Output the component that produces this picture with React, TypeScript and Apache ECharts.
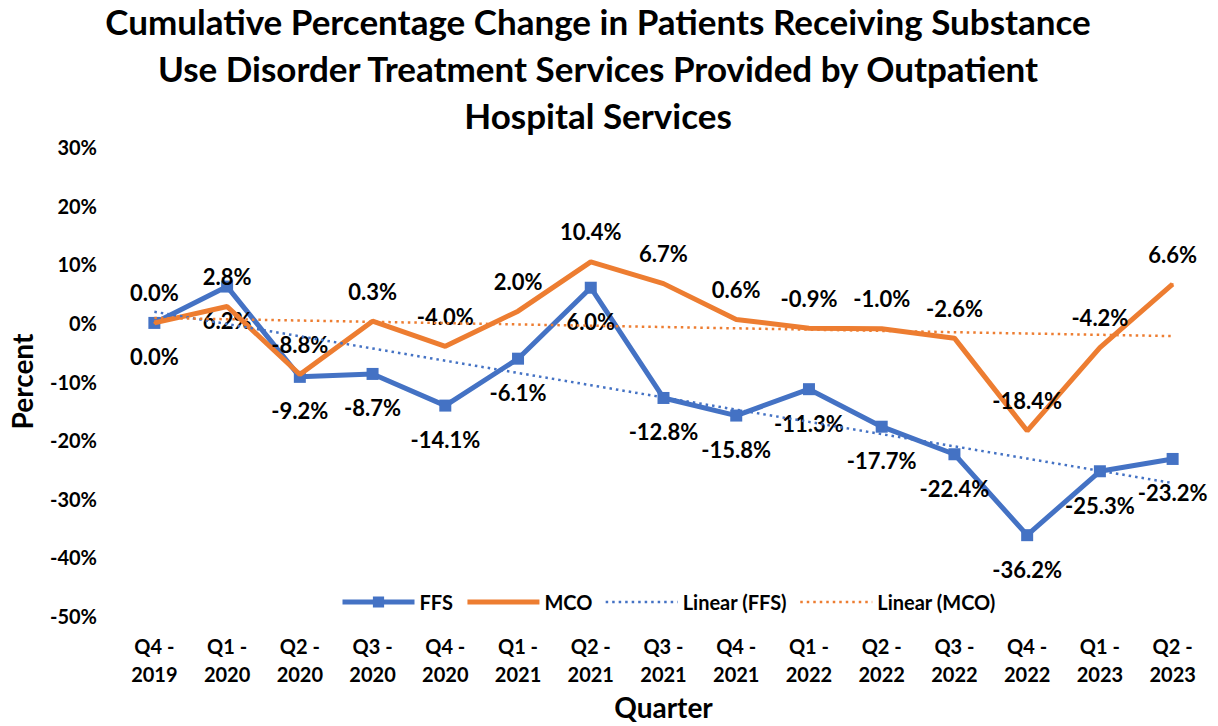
import React, { useEffect, useRef } from "react";
import * as echarts from "echarts";

const titleText =
  "Cumulative Percentage Change in Patients Receiving Substance\nUse Disorder Treatment Services Provided by Outpatient\nHospital Services";

const categories = [
  "Q4 -\n2019", "Q1 -\n2020", "Q2 -\n2020", "Q3 -\n2020", "Q4 -\n2020",
  "Q1 -\n2021", "Q2 -\n2021", "Q3 -\n2021", "Q4 -\n2021", "Q1 -\n2022",
  "Q2 -\n2022", "Q3 -\n2022", "Q4 -\n2022", "Q1 -\n2023", "Q2 -\n2023",
];

const ffsValues = [0.0, 6.2, -9.2, -8.7, -14.1, -6.1, 6.0, -12.8, -15.8, -11.3, -17.7, -22.4, -36.2, -25.3, -23.2];
const mcoValues = [0.0, 2.8, -8.8, 0.3, -4.0, 2.0, 10.4, 6.7, 0.6, -0.9, -1.0, -2.6, -18.4, -4.2, 6.6];

const yMin = -50;
const yMax = 30;
const yInterval = 10;

const BLUE = "#4472C4";
const ORANGE = "#ED7D31";
const FONT = "Lato";

// Excel-style linear trendline (least squares fit over category index)
function linearTrend(values: number[]): number[] {
  const n = values.length;
  const mx = (n - 1) / 2;
  const my = values.reduce((a, b) => a + b, 0) / n;
  let sxy = 0;
  let sxx = 0;
  values.forEach((v, i) => {
    sxy += (i - mx) * (v - my);
    sxx += (i - mx) * (i - mx);
  });
  const slope = sxy / sxx;
  return values.map((_, i) => my + slope * (i - mx));
}

export default function App() {
  const ref = useRef<HTMLDivElement>(null);

  useEffect(() => {
    if (!ref.current) return;
    const chart = echarts.init(ref.current, undefined, { renderer: "svg" });
    const labelStyle = {
      show: true,
      fontFamily: FONT,
      fontWeight: "bold" as const,
      fontSize: 22,
      color: "#000",
      formatter: (p: any) => `${Number(p.value).toFixed(1)}%`,
    };
    chart.setOption({
      animation: false,
      backgroundColor: "#fff",
      textStyle: { fontFamily: FONT },
      title: {
        text: titleText,
        left: 593,
        textAlign: "center",
        top: -8,
        textStyle: {
          fontFamily: FONT,
          fontWeight: "bold",
          fontSize: 35,
          lineHeight: 47,
          color: "#000",
        },
      },
      grid: { left: 118, right: 9, top: 147, bottom: 106 },
      legend: {
        left: 335,
        top: 587,
        itemWidth: 72,
        itemHeight: 14,
        itemGap: 12,
        textStyle: { fontFamily: FONT, fontWeight: "bold", fontSize: 20, color: "#000" },
        data: [
          { name: "FFS", lineStyle: { width: 5 } },
          { name: "MCO", itemStyle: { opacity: 0 }, lineStyle: { width: 5 } },
          { name: "Linear (FFS)", itemStyle: { opacity: 0 }, lineStyle: { width: 2.5 } },
          { name: "Linear (MCO)", itemStyle: { opacity: 0 }, lineStyle: { width: 2.5 } },
        ],
      },
      xAxis: {
        type: "category",
        data: categories,
        boundaryGap: true,
        axisLine: { show: false },
        axisTick: { show: false },
        splitLine: { show: false },
        axisLabel: {
          interval: 0,
          margin: 16,
          fontFamily: FONT,
          fontWeight: "bold",
          fontSize: 20,
          lineHeight: 28,
          color: "#000",
        },
        name: "Quarter",
        nameLocation: "middle",
        nameGap: 75,
        nameTextStyle: { fontFamily: FONT, fontWeight: "bold", fontSize: 28, color: "#000" },
      },
      yAxis: {
        type: "value",
        min: yMin,
        max: yMax,
        interval: yInterval,
        axisLine: { show: false },
        axisTick: { show: false },
        splitLine: { show: false },
        axisLabel: {
          margin: 21,
          fontFamily: FONT,
          fontWeight: "bold",
          fontSize: 20,
          color: "#000",
          formatter: (v: number) => `${v}%`,
        },
        name: "Percent",
        nameLocation: "middle",
        nameRotate: 90,
        nameGap: 82,
        nameTextStyle: { fontFamily: FONT, fontWeight: "bold", fontSize: 28, color: "#000" },
      },
      series: [
        {
          name: "FFS",
          type: "line",
          data: ffsValues,
          symbol: "rect",
          symbolSize: 12,
          itemStyle: { color: BLUE },
          lineStyle: { color: BLUE, width: 5 },
          label: { ...labelStyle, position: "inside", offset: [0, 34] },
          z: 3,
        },
        {
          name: "MCO",
          type: "line",
          data: mcoValues,
          symbol: "circle",
          symbolSize: 2,
          itemStyle: { color: ORANGE },
          lineStyle: { color: ORANGE, width: 5 },
          label: { ...labelStyle, position: "inside", offset: [0, -30] },
          z: 4,
        },
        {
          name: "Linear (FFS)",
          type: "line",
          data: linearTrend(ffsValues),
          symbol: "none",
          itemStyle: { color: BLUE },
          lineStyle: { color: BLUE, width: 2.5, type: [2.5, 4] },
          z: 5,
        },
        {
          name: "Linear (MCO)",
          type: "line",
          data: linearTrend(mcoValues),
          symbol: "none",
          itemStyle: { color: ORANGE },
          lineStyle: { color: ORANGE, width: 2.5, type: [2.5, 4] },
          z: 5,
        },
      ],
    });
    return () => chart.dispose();
  }, []);

  return (
    <div
      ref={ref}
      style={{ position: "fixed", left: 0, top: 0, width: 1218, height: 726, background: "#fff" }}
    />
  );
}
